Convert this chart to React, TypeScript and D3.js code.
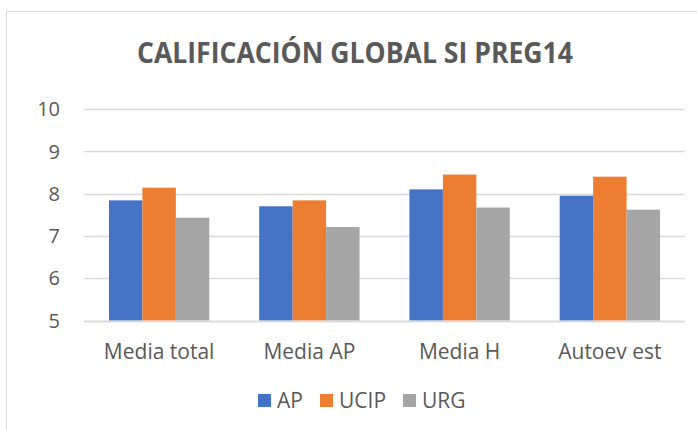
import * as d3 from "d3";
import React, { useRef, useEffect } from "react";

const categories = ["Media total", "Media AP", "Media H", "Autoev est"];
const seriesNames = ["AP", "UCIP", "URG"];
const apValues = [7.84, 7.7, 8.1, 7.95];
const ucipValues = [8.14, 7.84, 8.45, 8.4];
const urgValues = [7.43, 7.21, 7.67, 7.62];
const yTicks = [5, 6, 7, 8, 9, 10];
const colors = ["#4472C4", "#ED7D31", "#A5A5A5"];

function App() {
  const ref = useRef<SVGSVGElement>(null);

  useEffect(() => {
    const svg = d3.select(ref.current);
    svg.selectAll("*").remove();
    draw(svg);
  }, []);

  const draw = (svg: any) => {
    const width = 697,
      height = 430;
    const font = "'Open Sans', 'Noto Sans', sans-serif";
    const textColor = "#595959";

    svg.attr("width", width).attr("height", height);

    // chart frame (cut off on the right and bottom)
    svg
      .append("rect")
      .attr("x", 6.5)
      .attr("y", 11.5)
      .attr("width", 720)
      .attr("height", 440)
      .attr("fill", "#fff")
      .attr("stroke", "#D9D9D9");

    svg
      .append("text")
      .attr("x", 355)
      .attr("y", 63)
      .attr("text-anchor", "middle")
      .attr("font-family", font)
      .attr("font-weight", "bold")
      .attr("font-size", 28)
      .attr("textLength", 436)
      .attr("lengthAdjust", "spacingAndGlyphs")
      .attr("fill", textColor)
      .text("CALIFICACIÓN GLOBAL SI PREG14");

    const x0 = d3
      .scaleBand()
      .domain(categories)
      .range([84, 685])
      .paddingInner(0.332)
      .paddingOuter(0.166);
    const x1 = d3
      .scaleBand()
      .domain(seriesNames)
      .range([0, x0.bandwidth()]);
    const y = d3.scaleLinear().domain([5, 10]).range([320.5, 109]);

    // gridlines
    svg
      .append("g")
      .selectAll("line")
      .data(yTicks)
      .enter()
      .append("line")
      .attr("x1", 84)
      .attr("x2", 685)
      .attr("y1", (d: number) => Math.round(y(d)) + 0.5)
      .attr("y2", (d: number) => Math.round(y(d)) + 0.5)
      .attr("stroke", "#D9D9D9")
      .attr("stroke-width", 1.5);

    svg
      .append("g")
      .selectAll("text")
      .data(yTicks)
      .enter()
      .append("text")
      .attr("x", 60)
      .attr("y", (d: number) => y(d))
      .attr("dy", "0.36em")
      .attr("text-anchor", "end")
      .attr("font-family", font)
      .attr("font-size", 20)
      .attr("fill", textColor)
      .text((d: number) => d);

    const values = [apValues, ucipValues, urgValues];
    const groups = svg
      .append("g")
      .selectAll("g")
      .data(categories)
      .enter()
      .append("g")
      .attr("transform", (d: string) => "translate(" + x0(d) + ",0)");

    groups
      .selectAll("rect")
      .data((d: string, i: number) =>
        seriesNames.map((s, j) => ({ s, j, v: values[j][i] }))
      )
      .enter()
      .append("rect")
      .attr("x", (d: any) => x1(d.s))
      .attr("y", (d: any) => y(d.v))
      .attr("width", x1.bandwidth())
      .attr("height", (d: any) => y(5) - y(d.v))
      .attr("fill", (d: any) => colors[d.j]);

    // redraw baseline on top of bars
    svg
      .append("line")
      .attr("x1", 84)
      .attr("x2", 685)
      .attr("y1", Math.round(y(5)) + 0.5)
      .attr("y2", Math.round(y(5)) + 0.5)
      .attr("stroke", "#D9D9D9")
      .attr("stroke-width", 1.5);

    svg
      .append("g")
      .selectAll("text")
      .data(categories)
      .enter()
      .append("text")
      .attr("x", (d: string) => (x0(d) as number) + x0.bandwidth() / 2)
      .attr("y", 359)
      .attr("text-anchor", "middle")
      .attr("font-family", font)
      .attr("font-size", 21)
      .attr("fill", textColor)
      .text((d: string) => d);

    // legend
    const legendX = [258, 320, 403];
    const legend = svg
      .append("g")
      .selectAll("g")
      .data(seriesNames)
      .enter()
      .append("g")
      .attr("transform", (d: string, i: number) => "translate(" + legendX[i] + ",394)");
    legend
      .append("rect")
      .attr("width", 13)
      .attr("height", 13)
      .attr("fill", (d: string, i: number) => colors[i]);
    legend
      .append("text")
      .attr("x", 19)
      .attr("y", 13.5)
      .attr("font-family", font)
      .attr("font-size", 21)
      .attr("fill", textColor)
      .text((d: string) => d);
  };

  return (
    <div style={{ position: "absolute", left: 0, top: 0 }}>
      <svg ref={ref} style={{ display: "block" }}></svg>
    </div>
  );
}

export default App;
